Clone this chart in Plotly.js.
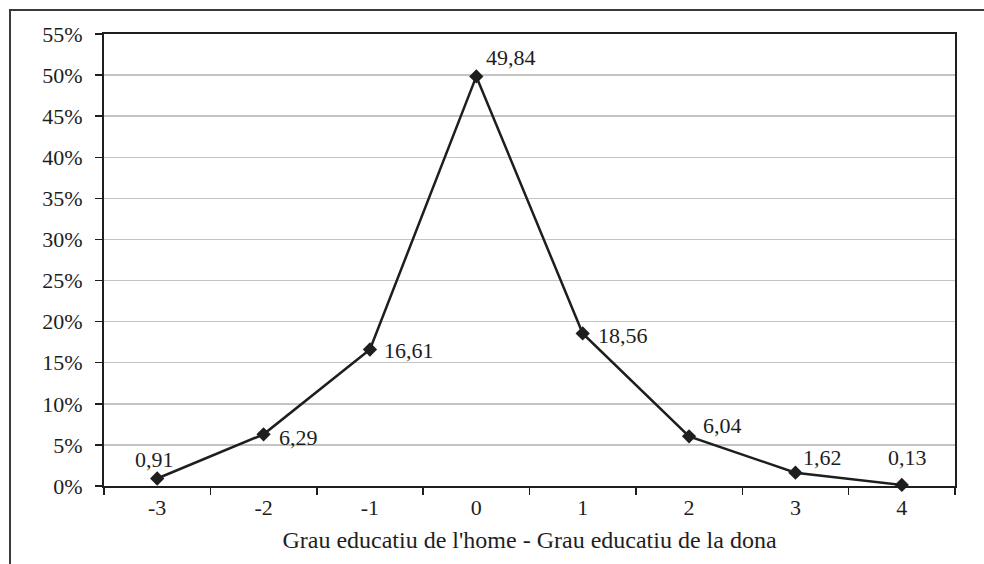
<!DOCTYPE html>
<html>
<head>
<meta charset="utf-8">
<script src="https://cdn.plot.ly/plotly-3.0.1.min.js"></script>
<style>html,body{margin:0;padding:0;background:#fff;}</style>
</head>
<body>
<div id="chart" style="width:984px;height:564px;"></div>
<script>
const categories = ["-3", "-2", "-1", "0", "1", "2", "3", "4"];
const values = [0.91, 6.29, 16.61, 49.84, 18.56, 6.04, 1.62, 0.13];
const yTickVals = [0, 5, 10, 15, 20, 25, 30, 35, 40, 45, 50, 55];
const xTitle = "Grau educatiu de l'home - Grau educatiu de la dona";

// label placement (style only): anchor, x offset, y offset in px
const labelAnchor = ["center", "left", "left", "left", "left", "left", "left", "center"];
const labelDx = [-3, 13, 12, 8, 13, 12, 6, 6];
const labelDy = [19, -3, -1, 19, -2, 11, 15, 27];

const font = "'Liberation Serif', 'DejaVu Serif', serif";
const fs = 22;
const ink = "#1e1e1e";
const W = 984, H = 564, L = 104, R = 29, T = 34, B = 78;
const pw = W - L - R, ph = H - T - B;
const px = x => (x - L) / pw;
const py = y => (H - B - y) / ph;

const trace = {
  x: categories,
  y: values,
  type: "scatter",
  mode: "lines+markers",
  line: {color: ink, width: 2.5},
  marker: {symbol: "diamond", size: 11, color: ink},
  cliponaxis: false,
  hoverinfo: "skip"
};

// on a category axis, annotation x is the category index
const annotations = categories.map((c, i) => ({
  x: i, y: values[i], xref: "x", yref: "y",
  text: values[i].toFixed(2).replace(".", ","),
  showarrow: false,
  xanchor: labelAnchor[i], yanchor: "middle",
  xshift: labelDx[i], yshift: labelDy[i],
  font: {family: font, size: fs, color: ink}
}));

const layout = {
  width: W, height: H,
  margin: {l: L, r: R, t: T, b: B},
  paper_bgcolor: "#fff",
  plot_bgcolor: "#fff",
  showlegend: false,
  font: {family: font, size: fs, color: ink},
  xaxis: {
    type: "category",
    range: [-0.5, 7.5],
    tickson: "boundaries",
    ticks: "outside",
    ticklen: 7,
    tickwidth: 1.5,
    tickcolor: ink,
    showline: true,
    linecolor: ink,
    linewidth: 2,
    mirror: true,
    showgrid: false,
    zeroline: false,
    ticklabelstandoff: 1,
    tickfont: {family: font, size: fs, color: ink},
    title: {text: xTitle, font: {family: font, size: 24, color: ink}, standoff: 12}
  },
  yaxis: {
    range: [0, 55],
    tickvals: yTickVals,
    ticktext: yTickVals.map(v => v + "%"),
    ticks: "outside",
    ticklen: 7,
    tickwidth: 1.5,
    tickcolor: ink,
    showline: true,
    linecolor: ink,
    linewidth: 2,
    mirror: true,
    showgrid: true,
    gridcolor: "#c4c4c4",
    gridwidth: 1.5,
    zeroline: false,
    ticklabelstandoff: 8,
    tickfont: {family: font, size: fs, color: ink}
  },
  annotations: annotations,
  shapes: [{
    type: "rect", xref: "paper", yref: "paper",
    x0: px(10), x1: px(1000), y0: py(600), y1: py(10),
    line: {color: "#3a3a3a", width: 2},
    layer: "below"
  }]
};

Plotly.newPlot("chart", [trace], layout, {displayModeBar: false, staticPlot: true});
</script>
</body>
</html>
